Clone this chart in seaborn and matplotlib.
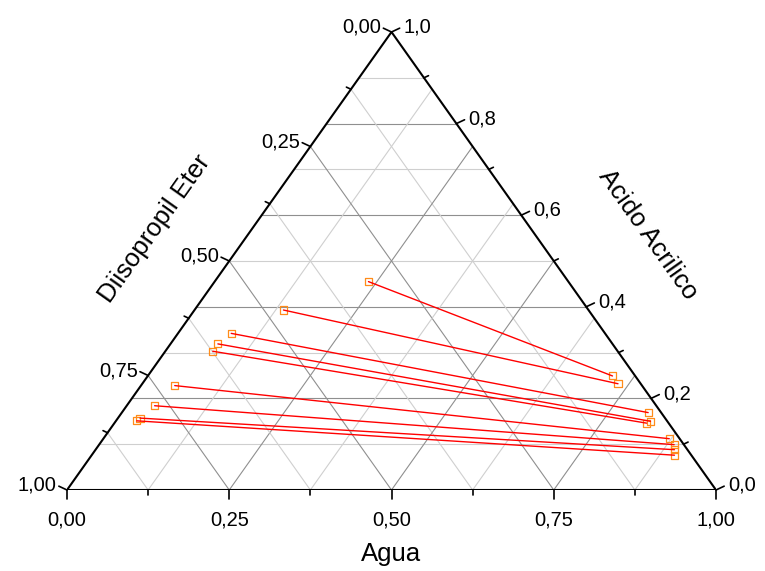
import numpy as np
import pandas as pd
import seaborn as sns
import matplotlib.pyplot as plt

# tie lines, mass fractions (agua, acido acrilico)
extract_agua = [0.237, 0.137, 0.082, 0.073, 0.073, 0.052, 0.043, 0.034, 0.032]
extract_acido = [0.455, 0.393, 0.342, 0.319, 0.303, 0.228, 0.184, 0.157, 0.151]
raffinate_agua = [0.716, 0.733, 0.811, 0.824, 0.820, 0.872, 0.886, 0.892, 0.898]
raffinate_acido = [0.249, 0.232, 0.169, 0.150, 0.146, 0.112, 0.099, 0.088, 0.076]

bottom_ticks = np.arange(0, 9) / 8      # Agua
left_ticks = np.arange(0, 9) / 8        # Diisopropil Eter
right_ticks = np.arange(0, 11) / 10     # Acido Acrilico

sns.set_style("white")
plt.rcParams['font.family'] = ['Liberation Sans', 'DejaVu Sans']
plt.rcParams['text.color'] = 'black'

W, H = 649, 458   # triangle size in pixels
PX, PY = 1 / W, 1 / H

def to_xy(agua, acido):
    agua = np.asarray(agua, dtype=float)
    acido = np.asarray(acido, dtype=float)
    return agua + acido / 2, acido

fig = plt.figure(figsize=(7.65, 5.71), dpi=100)
ax = fig.add_axes([67 / 765, 81 / 571, W / 765, H / 571])
ax.set_xlim(0, 1)
ax.set_ylim(0, 1)
ax.axis('off')

major_c, minor_c = '#8f8f8f', '#cfcfcf'

# grid: constant acido (horizontal)
for i, a in enumerate(right_ticks[1:-1], start=1):
    c = major_c if i % 2 == 0 else minor_c
    x0, y0 = to_xy(1 - a, a)
    x1, y1 = to_xy(0, a)
    ax.plot([x1, x0], [y1, y0], color=c, lw=0.8, zorder=1)
# grid: constant agua and constant eter
for k in range(1, 8):
    v = k / 8
    c = major_c if k % 2 == 0 else minor_c
    xa, ya = to_xy(v, 0)
    xb, yb = to_xy(v, 1 - v)
    ax.plot([xa, xb], [ya, yb], color=c, lw=0.8, zorder=1)
    xa, ya = to_xy(1 - v, 0)
    xb, yb = to_xy(0, 1 - v)
    ax.plot([xa, xb], [ya, yb], color=c, lw=0.8, zorder=1)

# triangle frame
tx, ty = to_xy([0, 1, 0, 0], [0, 0, 1, 0])
ax.plot(tx, ty, color='black', lw=1.5, zorder=5, solid_joinstyle='miter')

fs = 14.5
nl = np.array([-0.905, 0.425])
nr = np.array([0.905, 0.425])

# bottom axis (Agua)
for k, v in enumerate(bottom_ticks):
    L = 9 if k % 2 == 0 else 5
    x, y = to_xy(v, 0)
    ax.plot([x, x], [y, y - L * PY], color='black', lw=1.2, clip_on=False, zorder=5)
    if k % 2 == 0:
        ax.text(x, y - 30 * PY, f"{v:.2f}".replace('.', ','), ha='center', va='center',
                fontsize=fs, clip_on=False)

# left axis (Diisopropil Eter), 0 at top
for k, d in enumerate(left_ticks):
    L = 9 if k % 2 == 0 else 5
    x, y = to_xy(0, 1 - d)
    ex, ey = x + nl[0] * L * PX, y + nl[1] * L * PY
    ax.plot([x, ex], [y, ey], color='black', lw=1.2, clip_on=False, zorder=5)
    if k % 2 == 0:
        ax.text(ex - 2 * PX, ey + 1 * PY, f"{d:.2f}".replace('.', ','), ha='right', va='center',
                fontsize=fs, clip_on=False)

# right axis (Acido Acrilico)
for k, a in enumerate(right_ticks):
    L = 9 if k % 2 == 0 else 5
    x, y = to_xy(1 - a, a)
    ex, ey = x + nr[0] * L * PX, y + nr[1] * L * PY
    ax.plot([x, ex], [y, ey], color='black', lw=1.2, clip_on=False, zorder=5)
    if k % 2 == 0:
        ax.text(ex + 4 * PX, ey + 1 * PY, f"{a:.1f}".replace('.', ','), ha='left', va='center',
                fontsize=fs, clip_on=False)

# axis titles
ang = np.degrees(np.arctan2(H, W / 2))
ax.text(0.5, -64 * PY, 'Agua', ha='center', va='center', fontsize=18.5, clip_on=False)
ax.text(0.25 - 75 * PX, 0.5 + 32 * PY, 'Diisopropil Eter', ha='center', va='center',
        rotation=ang, rotation_mode='anchor', fontsize=18.5, clip_on=False)
ax.text(0.75 + 94 * PX, 0.5 + 27 * PY, 'Acido Acrilico', ha='center', va='center',
        rotation=-ang, rotation_mode='anchor', fontsize=18.5, clip_on=False)

# tie lines
ex_x, ex_y = to_xy(extract_agua, extract_acido)
ra_x, ra_y = to_xy(raffinate_agua, raffinate_acido)
n = len(extract_agua)
df = pd.DataFrame({
    'x': np.concatenate([ex_x, ra_x]),
    'y': np.concatenate([ex_y, ra_y]),
    'tie': np.concatenate([np.arange(n), np.arange(n)]),
})
sns.scatterplot(data=df, x='x', y='y', ax=ax, marker='s', s=26, facecolor='none',
                edgecolor='#ff8c1a', linewidth=0.9, zorder=3, legend=False)
sns.lineplot(data=df, x='x', y='y', units='tie', estimator=None, sort=False, ax=ax,
             color='red', lw=1.0, zorder=4, legend=False)
ax.set_xlim(0, 1)
ax.set_ylim(0, 1)
ax.axis('off')

fig.savefig('out.png', dpi=100)
